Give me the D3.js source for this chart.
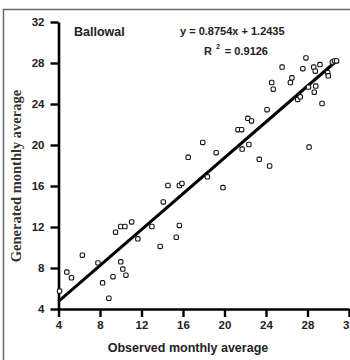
<!DOCTYPE html>
<html>
<head>
<meta charset="utf-8">
<script src="https://cdn.jsdelivr.net/npm/d3@7"></script>
<style>
  body { margin: 0; background: #fff; }
  svg { display: block; }
</style>
</head>
<body>
<div id="chart"></div>
<script>
// observed (x) and generated (y) monthly averages
const observed = [4.1, 4.8, 5.25, 6.3, 7.8, 8.25, 8.85, 9.25, 9.5, 10.0, 10.2, 10.0, 10.4, 10.5,
    11.05, 11.65, 13.0, 13.8, 14.1, 14.55, 15.35, 15.65, 15.65, 15.9, 16.5, 17.9, 18.35, 19.2,
    19.85, 21.3, 21.65, 21.7, 22.35, 22.25, 22.6, 23.35, 24.1, 24.35, 24.55, 24.7, 25.55, 26.35,
    26.5, 27.05, 27.3, 27.55, 27.85, 28.1, 28.15, 28.6, 28.75, 28.8, 28.65, 29.2, 29.4, 29.95,
    30.0, 30.4, 30.6, 30.8];
const generated = [5.75, 7.6, 7.05, 9.25, 8.5, 6.55, 5.05, 7.15, 11.5, 8.6, 7.9, 12.05, 12.05, 7.3,
    12.5, 10.85, 12.05, 10.1, 14.45, 16.05, 11.0, 12.15, 16.05, 16.25, 18.8, 20.25, 16.9, 19.25,
    15.85, 21.5, 21.5, 19.6, 20.05, 22.6, 22.35, 18.6, 23.45, 17.95, 26.1, 25.45, 27.6, 26.1,
    26.55, 24.45, 24.7, 27.45, 28.5, 25.65, 19.8, 27.6, 27.2, 25.75, 25.15, 27.85, 24.05, 27.05,
    26.75, 28.1, 28.2, 28.2];
const ticks = [4, 8, 12, 16, 20, 24, 28, 32];
const slope = 0.8754, intercept = 1.2435, r2 = "0.9126";
const fitRange = [4, 30.9];

const W = 350, H = 360;
const svg = d3.select("#chart").append("svg")
    .attr("width", W)
    .attr("height", H);

// outer frame (runs off right and bottom edge like the source image)
svg.append("rect")
    .attr("x", 3.5).attr("y", 9.5)
    .attr("width", 360).attr("height", 360)
    .attr("fill", "none")
    .attr("stroke", "#6a6a6a")
    .attr("stroke-width", 1.5);

const x = d3.scaleLinear().domain([4, 32]).range([58.5, 349]);
const y = d3.scaleLinear().domain([4, 32]).range([309, 22]);

const font = "'Liberation Sans', Arial, sans-serif";

const xAxis = svg.append("g")
    .attr("transform", "translate(0,309)")
    .call(d3.axisBottom(x).tickValues(ticks).tickSize(8).tickSizeOuter(0).tickPadding(4));
const yAxis = svg.append("g")
    .attr("transform", "translate(58.5,0)")
    .call(d3.axisLeft(y).tickValues(ticks).tickSize(8).tickSizeOuter(0).tickPadding(6));

[xAxis, yAxis].forEach(g => {
    g.select(".domain").attr("stroke", "#000").attr("stroke-width", 2.6);
    g.selectAll(".tick line").attr("stroke", "#000").attr("stroke-width", 2.4);
    g.selectAll(".tick text")
        .attr("fill", "#222")
        .style("font-family", font)
        .style("font-size", "11.5px")
        .style("font-weight", "bold");
});

// regression line
svg.append("line")
    .attr("x1", x(fitRange[0])).attr("y1", y(slope * fitRange[0] + intercept))
    .attr("x2", x(fitRange[1])).attr("y2", y(slope * fitRange[1] + intercept))
    .attr("stroke", "#000")
    .attr("stroke-width", 3);

// points
const pts = observed.map((v, i) => ({ o: v, g: generated[i] }));
svg.append("g").selectAll("rect")
    .data(pts)
    .enter()
    .append("rect")
    .attr("x", d => x(d.o) - 2.2)
    .attr("y", d => y(d.g) - 2.2)
    .attr("width", 4.4)
    .attr("height", 4.4)
    .attr("rx", 1.3)
    .attr("fill", "#fff")
    .attr("stroke", "#111")
    .attr("stroke-width", 1.1);

// station name
svg.append("text")
    .attr("x", 74).attr("y", 36)
    .style("font-family", font).style("font-size", "12.5px").style("font-weight", "bold")
    .attr("fill", "#222")
    .text("Ballowal");

// equation
svg.append("text")
    .attr("x", 180).attr("y", 35)
    .style("font-family", font).style("font-size", "11px").style("font-weight", "bold")
    .attr("fill", "#222")
    .text("y = " + slope + "x + " + intercept);

const r = svg.append("text")
    .attr("x", 204).attr("y", 55)
    .style("font-family", font).style("font-size", "11px").style("font-weight", "bold")
    .attr("fill", "#222");
r.append("tspan").text("R");
r.append("tspan").attr("dx", 4).attr("dy", -6).style("font-size", "7px").text("2");
r.append("tspan").attr("dx", 5).attr("dy", 6).text("= " + r2);

// axis titles
svg.append("text")
    .attr("x", 188).attr("y", 352)
    .attr("text-anchor", "middle")
    .style("font-family", font).style("font-size", "12.5px").style("font-weight", "bold")
    .attr("fill", "#222")
    .text("Observed monthly average");

svg.append("text")
    .attr("transform", "translate(21,176) rotate(-90)")
    .attr("text-anchor", "middle")
    .style("font-family", "'Liberation Serif', 'Times New Roman', serif")
    .style("font-size", "14.5px").style("font-weight", "bold")
    .attr("fill", "#333")
    .text("Generated monthly average");
</script>
</body>
</html>
